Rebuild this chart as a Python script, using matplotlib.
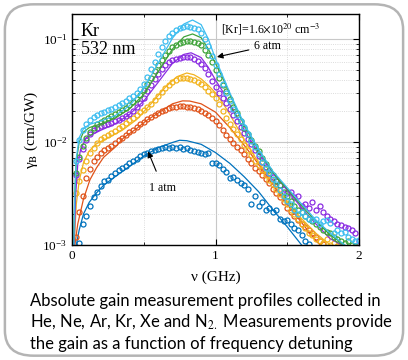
import numpy as np
import matplotlib
matplotlib.use("Agg")
import matplotlib.pyplot as plt
from matplotlib.patches import FancyBboxPatch
from matplotlib.ticker import FixedLocator, LogLocator, NullFormatter

plt.rcParams['font.family'] = ['Liberation Serif', 'DejaVu Serif']
plt.rcParams['mathtext.fontset'] = 'stix'

# measurement grid (GHz), gain values in units of 1e-3 cm/GW
nu = np.round(np.arange(1, 81) * 0.025, 3)

g_1atm = [1.05, 1.6, 1.9, 2.4, 2.9, 3.3, 3.7, 4.2, 4.3, 4.7, 5.0, 5.3, 5.6, 5.9, 6.2, 6.5,
          6.9, 7.3, 7.6, 7.9, 8.2, 8.3, 8.6, 8.8, 8.9, 8.8, 9.0, 8.7, 8.9, 8.6, 8.8, 8.4,
          8.2, 8.0, 7.9, 7.7, 7.8, 6.3, 6.2, 6.0, 5.5, 5.1, 4.5, 4.6, 4.3, 4.0, 3.8, 3.5,
          2.5, 3.0, 2.4, 2.6, 2.2, 2.3, 2.1, 2.2, 1.8, 1.7, 1.75, 1.6, 1.45, 1.4, 1.25, 1.1,
          1.02]
g_2 = [1.2, 2.1, 3.0, 4.5, 5.5, 6.5, 7.2, 7.8, 8.4, 8.8, 9.2, 9.7, 10.4, 11.0, 11.8, 12.5,
       13.2, 14.0, 15.0, 15.8, 16.7, 17.6, 18.4, 19.2, 20.0, 20.6, 21.2, 21.7, 22.0, 22.3,
       22.4, 22.1, 21.8, 21.5, 20.8, 20.0, 19.2, 18.3, 17.2, 16.0, 14.5, 13.0, 11.8, 10.8,
       9.8, 9.0, 8.3, 7.6, 6.9, 6.2, 5.6, 5.2, 4.8, 4.4, 4.0, 3.5, 3.2, 2.9, 2.6, 2.3, 2.1,
       1.9, 1.75, 1.6, 1.5, 1.4, 1.3, 1.2, 1.1, 1.02]
g_3 = [3.2, 4.2, 5.3, 6.5, 7.8, 8.8, 9.8, 10.6, 11.2, 11.7, 12.2, 12.9, 13.6, 14.4, 15.3,
       16.2, 17.3, 18.4, 19.5, 20.6, 22.0, 23.6, 25.5, 28.0, 30.5, 33.5, 36.0, 38.5, 40.2,
       41.5, 42.0, 41.6, 41.0, 40.0, 38.5, 36.5, 34.0, 31.5, 29.5, 27.0, 23.5, 20.0, 17.0,
       15.0, 13.5, 12.0, 10.6, 9.3, 8.3, 7.4, 6.6, 6.0, 5.3, 4.8, 4.3, 3.9, 3.5, 3.1, 2.8,
       2.5, 2.2, 2.0, 1.8, 1.6, 1.45, 1.3, 1.25, 1.15, 1.1, 1.05, 1.15, 1.0, 1.05, 0.98]
g_4 = [4.8, 6.8, 8.6, 10.4, 12.0, 13.0, 13.6, 14.2, 14.6, 15.0, 15.4, 15.9, 16.5, 17.0,
       17.8, 18.7, 20.0, 21.8, 24.0, 27.0, 31.0, 35.5, 40.5, 46.0, 51.0, 55.5, 59.5, 62.5,
       64.5, 66.0, 67.0, 67.2, 66.5, 64.5, 61.5, 57.5, 52.0, 45.5, 39.0, 34.0, 30.0, 27.0,
       24.0, 21.0, 18.5, 16.0, 14.0, 12.2, 10.8, 9.6, 8.4, 7.3, 6.4, 5.7, 5.0, 4.6, 4.2,
       3.8, 3.5, 3.2, 3.3, 2.9, 3.0, 2.4, 2.5, 2.3, 2.6, 2.2, 2.4, 2.1, 1.9, 1.8, 1.7, 1.6,
       1.55, 1.5, 1.45, 1.4, 1.3, 1.1]
g_5 = [5.0, 7.2, 9.2, 11.0, 12.6, 13.8, 14.8, 15.6, 16.3, 17.0, 17.8, 18.6, 19.5, 20.4,
       21.5, 22.8, 24.2, 26.0, 28.5, 32.0, 36.5, 42.0, 49.0, 56.0, 63.0, 70.0, 77.0, 83.0,
       88.0, 92.0, 94.5, 95.5, 95.5, 94.0, 92.0, 87.0, 79.0, 70.0, 60.0, 50.0, 42.0, 36.0,
       31.0, 26.0, 22.0, 19.0, 16.0, 13.8, 12.0, 10.4, 9.2, 8.2, 7.0, 6.1, 5.4, 4.8, 4.2,
       3.8, 3.3, 3.0, 2.7, 2.4, 2.2, 2.1, 1.9, 1.8, 1.7, 1.6, 1.5, 1.4, 1.35, 1.3, 1.2, 1.15,
       1.1, 1.05, 1.1, 1.0, 0.98]
g_6atm = [6.5, 10.5, 13.2, 15.0, 16.5, 17.4, 18.2, 19.0, 19.6, 20.3, 21.0, 21.8, 22.8, 23.8,
          25.0, 26.5, 28.0, 30.0, 33.0, 37.0, 43.0, 51.0, 60.0, 72.0, 84.0, 96.0, 106.0,
          115.0, 122.0, 127.0, 131.0, 132.5, 132.0, 129.0, 124.0, 115.0, 100.0, 86.0, 68.0,
          56.0, 46.0, 37.0, 30.0, 25.0, 21.0, 18.5, 16.0, 14.0, 12.0, 10.3, 9.0, 7.6, 6.4,
          5.6, 5.0, 4.4, 3.9, 3.4, 3.0, 2.7, 2.5, 2.2, 2.0, 2.1, 1.9, 1.8, 1.75, 1.8, 1.6,
          1.7, 1.75, 1.65, 1.3, 1.4, 1.3, 1.35, 1.2, 1.15, 1.1, 1.12]

# model curves (nu in GHz, gain in 1e-3 cm/GW)
fit_nu_1atm = [0.03, 0.05, 0.08, 0.12, 0.17, 0.22, 0.3, 0.4, 0.5, 0.6, 0.7, 0.75, 0.8, 0.9,
               1.0, 1.1, 1.2, 1.3, 1.4, 1.5, 1.6]
fit_1atm = [1.0, 1.4, 2.0, 2.6, 3.2, 3.8, 4.6, 5.8, 7.3, 8.8, 9.9, 10.4, 10.3, 9.5, 7.9, 6.2,
            4.6, 3.3, 2.2, 1.5, 1.0]
fit_nu_2 = [0.02, 0.04, 0.056, 0.08, 0.125, 0.17, 0.22, 0.3, 0.36, 0.45, 0.52, 0.61, 0.7,
            0.77, 0.82, 0.9, 1.0, 1.1, 1.2, 1.3, 1.4, 1.5, 1.6, 1.7, 1.73]
fit_2 = [1.0, 1.6, 2.0, 2.8, 4.3, 5.6, 7.1, 8.9, 11.0, 13.5, 16.2, 19.5, 23.5, 25.1, 25.0,
         23.5, 19.5, 13.8, 9.3, 6.1, 3.9, 2.5, 1.65, 1.1, 1.0]
fit_nu_3 = [0.015, 0.03, 0.05, 0.08, 0.12, 0.17, 0.25, 0.35, 0.45, 0.55, 0.65, 0.73, 0.8,
            0.85, 0.9, 0.95, 1.0, 1.05, 1.1, 1.2, 1.3, 1.4, 1.5, 1.6, 1.7, 1.8]
fit_3 = [1.0, 2.5, 4.2, 6.3, 8.2, 9.6, 11.0, 13.0, 16.5, 23.5, 34.0, 43.0, 46.8, 45.0, 41.0,
         35.5, 30.0, 24.0, 18.5, 10.5, 6.3, 4.0, 2.6, 1.8, 1.3, 1.0]
fit_nu_4 = [0.015, 0.025, 0.04, 0.06, 0.1, 0.15, 0.2, 0.3, 0.4, 0.5, 0.6, 0.7, 0.78, 0.83,
            0.9, 0.95, 1.0, 1.05, 1.1, 1.2, 1.3, 1.4, 1.5, 1.6, 1.7, 1.8, 1.88]
fit_4 = [1.0, 3.0, 6.0, 8.5, 11.0, 12.0, 13.0, 15.0, 18.5, 25.0, 38.0, 58.0, 71.0, 73.5, 66.0,
         53.0, 40.0, 31.0, 23.0, 13.0, 7.8, 5.0, 3.4, 2.3, 1.6, 1.15, 1.0]
fit_nu_5 = [0.012, 0.02, 0.03, 0.05, 0.08, 0.12, 0.2, 0.3, 0.4, 0.5, 0.6, 0.7, 0.78, 0.84,
            0.9, 0.95, 1.0, 1.05, 1.1, 1.2, 1.3, 1.4, 1.5, 1.6, 1.7, 1.8, 1.9]
fit_5 = [1.0, 3.2, 6.5, 10.0, 12.5, 13.8, 15.0, 17.0, 21.0, 29.0, 48.0, 80.0, 105.0, 112.0,
         103.0, 80.0, 58.0, 42.0, 29.0, 14.5, 8.3, 5.1, 3.5, 2.4, 1.7, 1.25, 1.0]
fit_nu_6atm = [0.012, 0.02, 0.03, 0.05, 0.08, 0.12, 0.2, 0.3, 0.4, 0.5, 0.6, 0.7, 0.78, 0.84,
               0.9, 0.95, 1.0, 1.05, 1.1, 1.2, 1.3, 1.4, 1.5, 1.6, 1.7, 1.8, 1.9]
fit_6atm = [1.0, 3.5, 7.0, 11.0, 13.5, 14.8, 16.0, 18.0, 22.5, 33.0, 58.0, 102.0, 140.0, 153.0,
            138.0, 100.0, 64.0, 44.0, 30.0, 15.0, 8.5, 5.2, 3.6, 2.5, 1.75, 1.3, 1.0]

colors = ['#0072BD', '#E0531A', '#F2B31E', '#8A2BE2', '#3FA33A', '#3DBDF0']
series = [(g_1atm, 1, fit_nu_1atm, fit_1atm), (g_2, 0, fit_nu_2, fit_2),
          (g_3, 0, fit_nu_3, fit_3), (g_4, 0, fit_nu_4, fit_4),
          (g_5, 0, fit_nu_5, fit_5), (g_6atm, 0, fit_nu_6atm, fit_6atm)]

fig = plt.figure(figsize=(4.08, 3.6), dpi=100)
fig.patches.append(FancyBboxPatch((0.012, 0.012), 0.976, 0.976,
                                  boxstyle="round,pad=0,rounding_size=0.07",
                                  transform=fig.transFigure, facecolor='white',
                                  edgecolor='#b4b4b4', linewidth=1.8, zorder=-1))

ax = fig.add_axes([0.1765, 0.3194, 0.7034, 0.6417])
for (g, start, fx, fy), c in zip(series, colors):
    x = nu[start:start + len(g)]
    ax.plot(x, np.array(g) * 1e-3, 'o', mfc='none', mec=c, ms=3.6, mew=0.9)
    ax.plot(fx, np.array(fy) * 1e-3, '-', color=c, lw=0.9)

ax.set_yscale('log')
ax.set_xlim(0, 2)
ax.set_ylim(1e-3, 0.175)
ax.xaxis.set_major_locator(FixedLocator([0, 1, 2]))
ax.xaxis.set_minor_locator(FixedLocator([0.5, 1.5]))
ax.yaxis.set_major_locator(LogLocator(base=10, numticks=5))
ax.yaxis.set_minor_locator(LogLocator(base=10, subs=np.arange(2, 10), numticks=20))
ax.yaxis.set_minor_formatter(NullFormatter())
ax.grid(True, which='major', color='#c8c8c8', lw=0.8)
ax.grid(True, which='minor', color='#d0d0d0', lw=0.6, ls=':')
ax.tick_params(which='both', direction='in', top=True, right=True, labelsize=9.5)
ax.tick_params(which='major', length=4)
ax.tick_params(which='minor', length=2)
for s in ax.spines.values():
    s.set_linewidth(1.0)

ax.set_xlabel('ν (GHz)', fontsize=11, labelpad=6)
ax.set_ylabel(r'γ$_\mathrm{B}$ (cm/GW)', fontsize=11, labelpad=2)

ax.text(0.03, 0.96, 'Kr', transform=ax.transAxes, fontsize=13, va='top')
ax.text(0.03, 0.885, '532 nm', transform=ax.transAxes, fontsize=13, va='top')
ax.text(1.035, 0.125, r'[Kr]=1.6$\times$10$^{20}$ cm$^{-3}$', fontsize=8.6, va='center')
ax.annotate('6 atm', xy=(1.01, 0.067), xytext=(1.27, 0.086), fontsize=8.6, va='center',
            arrowprops=dict(arrowstyle='-|>', color='black', lw=0.8, shrinkA=2, shrinkB=0))
ax.annotate('1 atm', xy=(0.53, 0.0081), xytext=(0.54, 0.0036), fontsize=8.6, va='center',
            arrowprops=dict(arrowstyle='-|>', color='black', lw=0.8, shrinkA=6, shrinkB=0))

fig.text(0.0735, 0.105, 'Absolute gain measurement profiles collected in\n'
         'He, Ne, Ar, Kr, Xe and N$_{2.}$ Measurements provide\n'
         'the gain as a function of frequency detuning',
         ha='left', va='center', fontsize=12.0, family=['Lato', 'DejaVu Sans'],
         linespacing=1.24)

fig.savefig('out.png', dpi=100)
